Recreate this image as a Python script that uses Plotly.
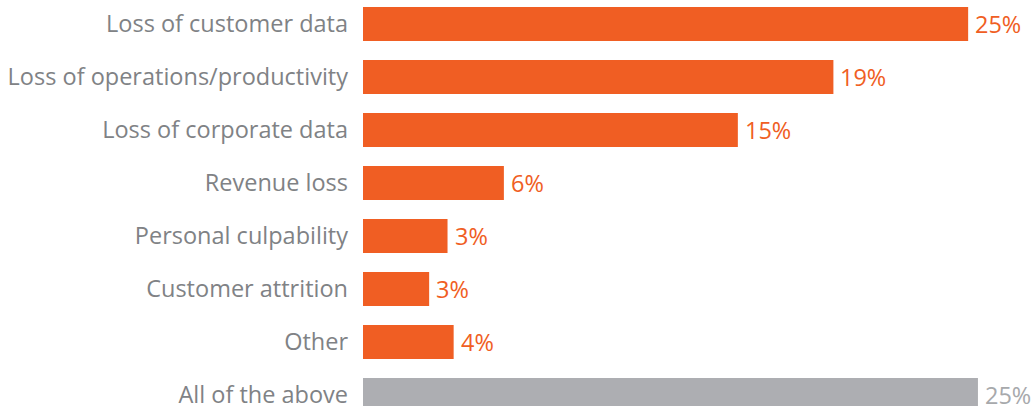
import plotly.graph_objects as go

categories = [
    "Loss of customer data",
    "Loss of operations/productivity",
    "Loss of corporate data",
    "Revenue loss",
    "Personal culpability",
    "Customer attrition",
    "Other",
    "All of the above",
]
values = [24.7, 19.2, 15.3, 5.75, 3.45, 2.7, 3.7, 25.1]
labels = ["25%", "19%", "15%", "6%", "3%", "3%", "4%", "25%"]

ORANGE = "#F05E23"
GREY_BAR = "#ADAEB2"
GREY_TXT = "#A7A9AC"
bar_colors = [ORANGE] * 7 + [GREY_BAR]
text_colors = [ORANGE] * 7 + [GREY_TXT]

FONT = "Open Sans"

fig = go.Figure(
    go.Bar(
        x=values,
        y=categories,
        orientation="h",
        marker=dict(color=bar_colors, line=dict(width=0)),
        width=34 / 53,
        hoverinfo="skip",
    )
)

for c, v, t, col in zip(categories, values, labels, text_colors):
    fig.add_annotation(
        x=v, y=c, text=t, showarrow=False, xanchor="left", yanchor="middle",
        xshift=5, font=dict(family=FONT, size=23.5, color=col),
    )

px_per_unit = 24.5
plot_w = 1036 - 363
fig.update_layout(
    width=1036,
    height=406,
    margin=dict(l=363, r=0, t=0, b=0, pad=0, autoexpand=False),
    paper_bgcolor="white",
    plot_bgcolor="white",
    showlegend=False,
    font=dict(family=FONT),
    xaxis=dict(
        range=[0, plot_w / px_per_unit],
        visible=False,
        automargin=False,
        fixedrange=True,
    ),
    yaxis=dict(
        type="category",
        categoryorder="array",
        categoryarray=categories,
        range=[(406 - 24) / 53, -24 / 53],
        showgrid=False,
        zeroline=False,
        showline=False,
        ticks="",
        automargin=False,
        ticklabelstandoff=14,
        tickfont=dict(family=FONT, size=23.5, color="#808285"),
        fixedrange=True,
    ),
)

fig.write_html("out.html")
